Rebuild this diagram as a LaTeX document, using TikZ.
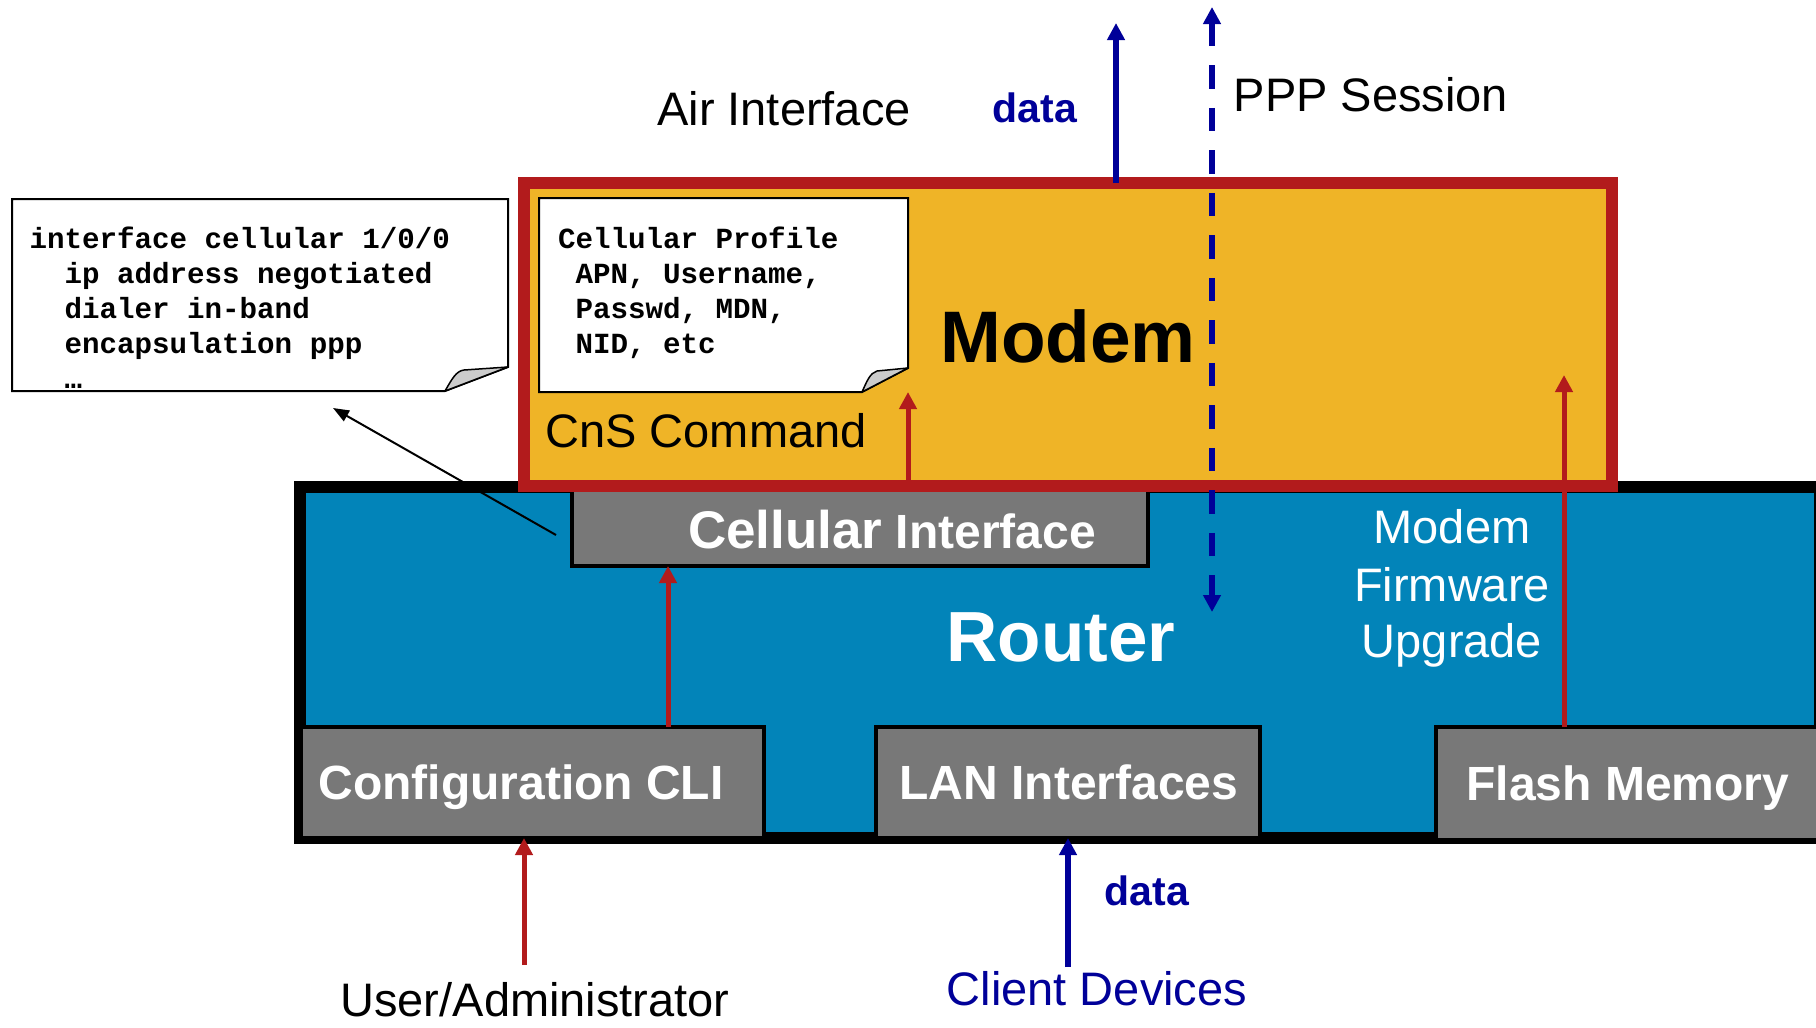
\documentclass[tikz,border=0pt]{standalone}
\usepackage{fontspec}
\setmainfont{Liberation Sans}
\setmonofont{Liberation Mono}
\usetikzlibrary{arrows.meta,calc}
\definecolor{modemfill}{HTML}{EFB427}
\definecolor{modemred}{HTML}{B21B1C}
\definecolor{routerblue}{HTML}{0284B9}
\definecolor{boxgray}{HTML}{787878}
\definecolor{navy}{HTML}{000099}
\definecolor{foldgray}{HTML}{CCCCCC}
\newcommand\fsz[1]{\fontsize{#1bp}{#1bp}\selectfont}
\begin{document}
\begin{tikzpicture}[x=1bp,y=-1bp,
  box/.style={rectangle,inner sep=0pt,outer sep=0pt,anchor=north west},
  graybox/.style={box,draw=black,fill=boxgray,line width=3.5bp},
  lbl/.style={inner sep=0pt,outer sep=0pt,anchor=base},
  boxlbl/.style={lbl,text=white,font=\fsz{48}\bfseries},
  plain/.style={lbl,font=\fsz{47}},
  code/.style={inner sep=0pt,outer sep=0pt,anchor=base west,font=\fsz{29.2}\ttfamily\bfseries},
  redarr/.style={draw=modemred,line width=5bp,-{Triangle[width=17bp,length=17bp]}},
  bluearr/.style={draw=navy,line width=5.5bp,-{Triangle[width=17bp,length=17bp]}},
  notebox/.style={draw=black,fill=white,line width=2bp,line join=miter},
  fold/.style={draw=black,fill=foldgray,line width=1.5bp,line join=round},
]
\useasboundingbox (0,0) rectangle (1816,1027);
\clip (0,0) rectangle (1816,1027);

% router
\node[box,draw=black,fill=routerblue,line width=11.5bp,minimum width=1520bp,minimum height=351bp] (router) at (300,487) {};
% gray boxes
\node[graybox,minimum width=463bp,minimum height=111bp] (cfg) at (301,727) {};
\node[graybox,minimum width=384bp,minimum height=111bp] (lan) at (876,727) {};
\node[graybox,minimum width=392bp,minimum height=113bp] (flash) at (1436,727) {};
\node[graybox,minimum width=576bp,minimum height=76bp] (cell) at (572,490) {};
% modem
\node[box,draw=modemred,fill=modemfill,line width=12bp,minimum width=1088bp,minimum height=303bp] (modem) at (524,183) {};

% notes
\node[box,minimum width=496bp,minimum height=192bp] (note1) at (12,199) {};
\draw[notebox] (note1.north west) -- (note1.north east) -- ($(note1.south east)+(0,-24)$) -- ($(note1.south east)+(-63,0)$) -- (note1.south west) -- cycle;
\draw[fold] ($(note1.south east)+(-63,0)$) .. controls ($(note1.south east)+(-56,-12)$) and ($(note1.south east)+(-52,-20)$) .. ($(note1.south east)+(-44,-21)$) -- ($(note1.south east)+(0,-24)$) -- cycle;

\node[box,minimum width=369bp,minimum height=194bp] (note2) at (539,198) {};
\draw[notebox] (note2.north west) -- (note2.north east) -- ($(note2.south east)+(0,-24)$) -- ($(note2.south east)+(-46,0)$) -- (note2.south west) -- cycle;
\draw[fold] ($(note2.south east)+(-46,0)$) .. controls ($(note2.south east)+(-41,-11)$) and ($(note2.south east)+(-38,-19)$) .. ($(note2.south east)+(-31,-21)$) -- ($(note2.south east)+(0,-24)$) -- cycle;

% code text
\node[code] (c1a) at (29.5,248) {interface cellular 1/0/0};
\node[code] (c1b) at (64.5,283) {ip address negotiated};
\node[code] (c1c) at (64.5,318) {dialer in-band};
\node[code] (c1d) at (64.5,353) {encapsulation ppp};
\node[code] (c1e) at (64.5,388) {…};
\node[code] (c2a) at (558,248) {Cellular Profile};
\node[code] (c2b) at (575.5,283) {APN, Username,};
\node[code] (c2c) at (575.5,318) {Passwd, MDN,};
\node[code] (c2d) at (575.5,353) {NID, etc};

% coordinates for connector free ends
\coordinate (ptrtail) at (556,535);
\coordinate (ptrtip) at (333,408);
\coordinate (xcli) at (668,0);
\coordinate (xcns) at (908,0);
\coordinate (fltip) at (1564,375);
\coordinate (usr) at (524,965);
\coordinate (cli) at (1068,967);
\coordinate (air) at (1116,23);
\coordinate (pppt) at (1212,7);
\coordinate (pppb) at (1212,612);

% connectors
\draw[line width=2bp,-{Triangle[width=12bp,length=16bp]}] (ptrtail) -- (ptrtip);
\draw[redarr] (xcli |- cfg.north) -- (xcli |- cell.south);
\draw[redarr] (xcns |- cell.north) -- (xcns |- note2.south);
\draw[redarr] (fltip |- flash.north) -- (fltip);
\draw[redarr] (usr) -- (usr |- cfg.south);
\draw[bluearr] (cli) -- (cli |- lan.south);
\draw[bluearr] (air |- modem.north) -- (air);
\draw[draw=navy,line width=5.5bp,dash pattern=on 23.5bp off 19bp,{Triangle[width=17bp,length=17bp]}-{Triangle[width=17bp,length=17bp]}] (pppt) -- (pppb);

% labels
\node[boxlbl] (cfgl) at (521,799) {Configuration CLI};
\node[boxlbl] (lanl) at (1069,799) {LAN Interfaces};
\node[boxlbl] (flashl) at (1628,800) {Flash Memory};
\node[boxlbl] (celll) at (892,548) {{\fsz{53}Cellular} Interface};
\node[lbl,font=\fsz{71}\bfseries,text=white] (routerl) at (1061,661) {Router};
\node[lbl,font=\fsz{73}\bfseries] (modeml) at (1068,362) {Modem};
\node[plain,text=white] (fw1) at (1452,543) {Modem};
\node[plain,text=white] (fw2) at (1452,601) {Firmware};
\node[plain,text=white] (fw3) at (1452,657) {Upgrade};
\node[plain] (cns) at (706,447) {CnS Command};
\node[plain] (airl) at (784,125) {Air Interface};
\node[lbl,font=\fsz{41}\bfseries,text=navy] (data1) at (1035,122) {data};
\node[plain] (ppp) at (1371,111) {PPP Session};
\node[plain] (user) at (535,1016) {User/Administrator};
\node[lbl,font=\fsz{41}\bfseries,text=navy] (data2) at (1147,905) {data};
\node[plain,text=navy] (client) at (1097,1005) {Client Devices};
\end{tikzpicture}
\end{document}
